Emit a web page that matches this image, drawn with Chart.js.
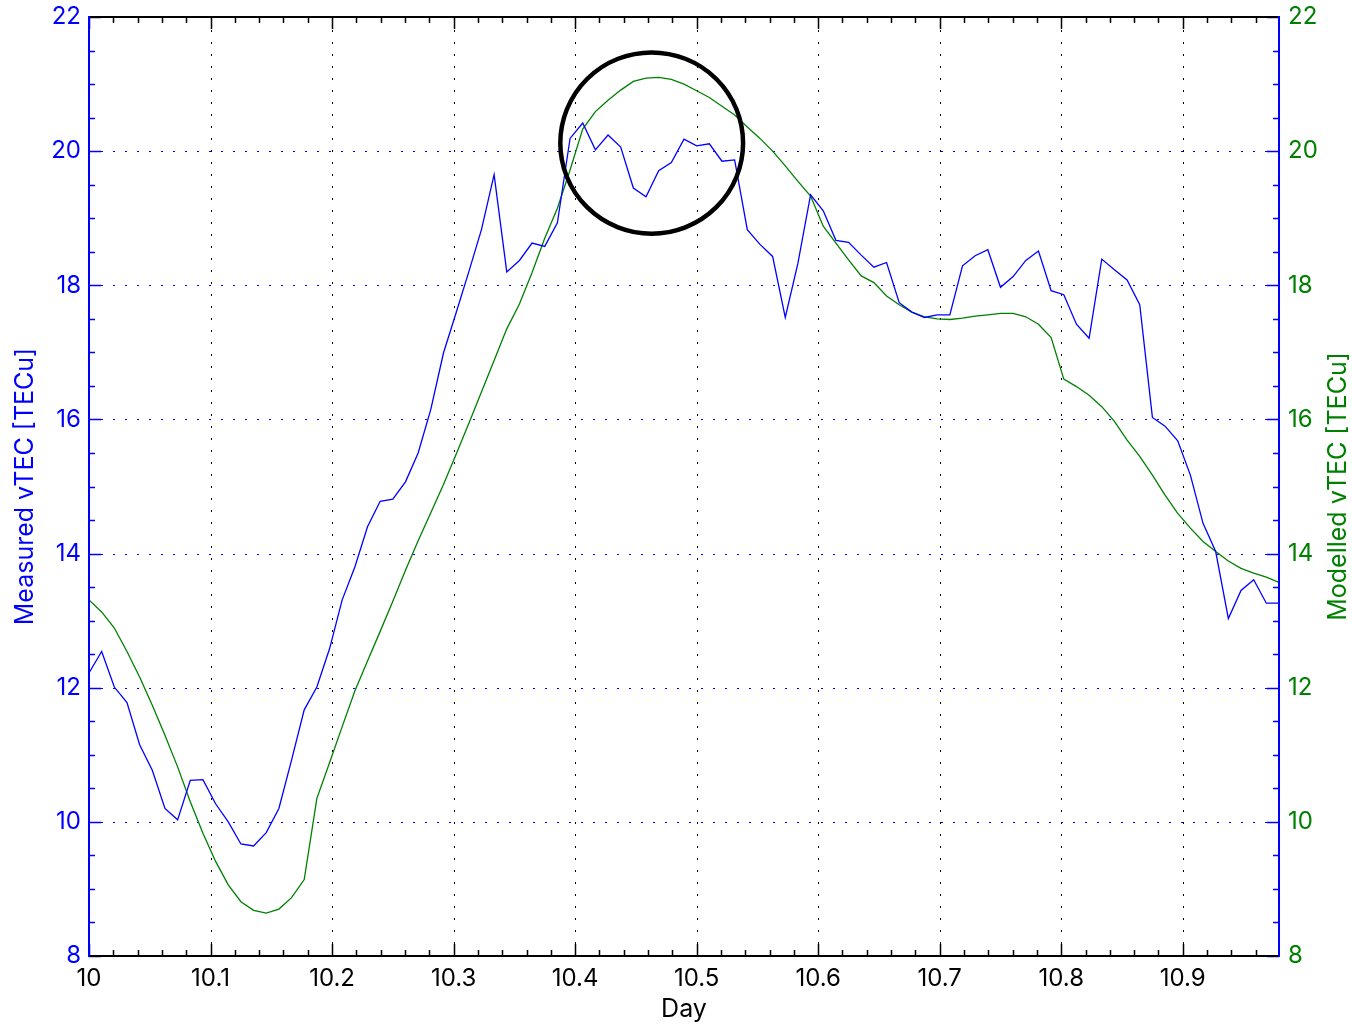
<!DOCTYPE html>
<html>
<head>
<meta charset="utf-8">
<script src="https://cdn.jsdelivr.net/npm/chart.js@4.4.0/dist/chart.umd.min.js"></script>
<style>
html,body{margin:0;padding:0;background:#fff;}
#wrap{width:1352px;height:1025px;}
</style>
</head>
<body>
<div id="wrap"><canvas id="c" width="1352" height="1025"></canvas></div>
<script>
// ---- data ----
const dayStart = 10;
const sampleMinutes = 15;

const measuredTEC = [
  12.22, 12.54, 12.01, 11.78, 11.15, 10.77, 10.20, 10.03, 10.62, 10.63,
  10.27, 10.00, 9.67, 9.64, 9.84, 10.20, 10.92, 11.67, 12.01, 12.58,
  13.31, 13.80, 14.40, 14.78, 14.81, 15.07, 15.50, 16.15, 16.99, 17.59,
  18.20, 18.83, 19.65, 18.20, 18.37, 18.63, 18.58, 18.93, 20.19, 20.42,
  20.02, 20.24, 20.06, 19.45, 19.32, 19.71, 19.83, 20.18, 20.08, 20.11,
  19.85, 19.87, 18.83, 18.61, 18.43, 17.52, 18.33, 19.35, 19.11, 18.67,
  18.64, 18.45, 18.27, 18.34, 17.74, 17.60, 17.52, 17.56, 17.56, 18.29,
  18.44, 18.53, 17.97, 18.13, 18.37, 18.51, 17.92, 17.86, 17.42, 17.21,
  18.39, 18.23, 18.08, 17.71, 16.03, 15.90, 15.68, 15.17, 14.45, 14.03,
  13.03, 13.45, 13.61, 13.26, 13.26
];

const modelledTEC = [
  13.31, 13.13, 12.89, 12.54, 12.16, 11.74, 11.29, 10.82, 10.30, 9.83,
  9.41, 9.06, 8.81, 8.68, 8.64, 8.70, 8.87, 9.14, 10.35, 10.88,
  11.42, 11.95, 12.40, 12.84, 13.29, 13.75, 14.19, 14.61, 15.03, 15.48,
  15.94, 16.41, 16.88, 17.35, 17.72, 18.19, 18.70, 19.15, 19.72, 20.33,
  20.59, 20.76, 20.91, 21.04, 21.09, 21.10, 21.07, 21.00, 20.90, 20.80,
  20.67, 20.54, 20.36, 20.19, 20.00, 19.78, 19.55, 19.33, 18.88, 18.63,
  18.38, 18.14, 18.04, 17.84, 17.71, 17.60, 17.53, 17.50, 17.49, 17.51,
  17.54, 17.56, 17.58, 17.58, 17.53, 17.42, 17.22, 16.60, 16.49, 16.36,
  16.19, 15.97, 15.69, 15.45, 15.17, 14.87, 14.60, 14.38, 14.18, 14.03,
  13.89, 13.78, 13.71, 13.65, 13.57
];

// sample times (15-minute cadence), in days
const days = measuredTEC.map((_, i) => dayStart + i * sampleMinutes / 1440);

const xTickValues = [10, 10.1, 10.2, 10.3, 10.4, 10.5, 10.6, 10.7, 10.8, 10.9];
const xTickLabels = ['10', '10.1', '10.2', '10.3', '10.4', '10.5', '10.6', '10.7', '10.8', '10.9'];
const yTickValues = [8, 10, 12, 14, 16, 18, 20, 22];
const yTickLabels = ['8', '10', '12', '14', '16', '18', '20', '22'];

const xTitle = 'Day';
const yLeftTitle = 'Measured vTEC [TECu]';
const yRightTitle = 'Modelled vTEC [TECu]';

// highlighted region (data units)
const highlightCenter = { day: 10.463, tec: 20.12 };
const highlightRadius = { day: 0.0752, tec: 1.352 };

// ---- style ----
const FONT = 'Inter, "Liberation Sans", Arial, sans-serif';
const BLUE = '#0000ff';
const GREEN = '#008000';

const framePlugin = {
  id: 'frame',
  beforeDatasetsDraw(chart) {
    const { ctx, chartArea: a, scales } = chart;
    const x = scales.x, y = scales.y;
    ctx.save();
    ctx.lineWidth = 1;
    ctx.setLineDash([2, 10]);
    ctx.strokeStyle = '#000';
    xTickValues.forEach(v => {
      if (v <= x.min + 1e-9 || v >= x.max - 1e-9) return;
      const px = Math.round(x.getPixelForValue(v)) + 0.5;
      ctx.beginPath(); ctx.moveTo(px, a.bottom); ctx.lineTo(px, a.top); ctx.stroke();
    });
    ctx.strokeStyle = BLUE;
    yTickValues.forEach(v => {
      if (v <= y.min + 1e-9 || v >= y.max - 1e-9) return;
      const py = Math.round(y.getPixelForValue(v)) + 0.5;
      ctx.beginPath(); ctx.moveTo(a.left, py); ctx.lineTo(a.right, py); ctx.stroke();
    });
    ctx.restore();
  },
  afterDatasetsDraw(chart) {
    const { ctx, chartArea: a, scales } = chart;
    const x = scales.x, y = scales.y;
    ctx.save();
    // highlight circle
    const cx = x.getPixelForValue(highlightCenter.day);
    const cy = y.getPixelForValue(highlightCenter.tec);
    const rx = Math.abs(x.getPixelForValue(highlightCenter.day + highlightRadius.day) - cx);
    const ry = Math.abs(y.getPixelForValue(highlightCenter.tec + highlightRadius.tec) - cy);
    ctx.lineWidth = 4.5;
    ctx.strokeStyle = '#000';
    ctx.beginPath(); ctx.ellipse(cx, cy, rx, ry, 0, 0, Math.PI * 2); ctx.stroke();

    // x ticks (inward, bottom and top)
    ctx.lineWidth = 1.5;
    ctx.strokeStyle = '#000';
    for (let k = 0; ; k++) {
      const v = dayStart + k * 0.02;
      if (v > x.max + 1e-9) break;
      const major = k % 5 === 0;
      const len = major ? 12 : 6;
      const px = Math.round(x.getPixelForValue(v)) + 0.5;
      ctx.beginPath();
      ctx.moveTo(px, a.bottom); ctx.lineTo(px, a.bottom - len);
      ctx.moveTo(px, a.top); ctx.lineTo(px, a.top + len);
      ctx.stroke();
    }
    // y ticks (inward, left and right)
    ctx.strokeStyle = BLUE;
    for (let k = 0; ; k++) {
      const v = y.min + k * 0.5;
      if (v > y.max + 1e-9) break;
      const major = k % 4 === 0;
      const len = major ? 12 : 6;
      const py = Math.round(y.getPixelForValue(v)) + 0.5;
      ctx.beginPath();
      ctx.moveTo(a.left, py); ctx.lineTo(a.left + len, py);
      ctx.moveTo(a.right, py); ctx.lineTo(a.right - len, py);
      ctx.stroke();
    }
    // frame
    ctx.lineWidth = 2;
    ctx.strokeStyle = '#000';
    ctx.beginPath(); ctx.moveTo(a.left, a.top); ctx.lineTo(a.right, a.top); ctx.stroke();
    ctx.beginPath(); ctx.moveTo(a.left, a.bottom); ctx.lineTo(a.right, a.bottom); ctx.stroke();
    ctx.strokeStyle = BLUE;
    ctx.beginPath(); ctx.moveTo(a.left, a.top - 1); ctx.lineTo(a.left, a.bottom + 1); ctx.stroke();
    ctx.beginPath(); ctx.moveTo(a.right, a.top - 1); ctx.lineTo(a.right, a.bottom + 1); ctx.stroke();
    ctx.restore();
  },
  afterDraw(chart) {
    const { ctx, chartArea: a } = chart;
    const midY = (a.top + a.bottom) / 2;
    ctx.save();
    ctx.font = '25px ' + FONT;
    ctx.textAlign = 'center';
    ctx.textBaseline = 'alphabetic';
    ctx.fillStyle = '#000';
    ctx.fillText(xTitle, (a.left + a.right) / 2, chart.height - 8);

    ctx.save();
    ctx.translate(33, midY);
    ctx.rotate(-Math.PI / 2);
    ctx.fillStyle = BLUE;
    ctx.fillText(yLeftTitle, 0, 0);
    ctx.restore();

    ctx.save();
    ctx.translate(chart.width - 6, midY);
    ctx.rotate(-Math.PI / 2);
    ctx.fillStyle = GREEN;
    ctx.fillText(yRightTitle, 0, 0);
    ctx.restore();
    ctx.restore();
  }
};

function fixY(width) {
  return s => { s.width = width; s.paddingTop = 0; s.paddingBottom = 0; };
}

const ctx = document.getElementById('c').getContext('2d');
new Chart(ctx, {
  type: 'line',
  data: {
    datasets: [
      {
        label: 'Measured vTEC',
        data: days.map((d, i) => ({ x: d, y: measuredTEC[i] })),
        borderColor: BLUE,
        borderWidth: 1.3,
        pointRadius: 0,
        tension: 0,
        xAxisID: 'x',
        yAxisID: 'y'
      },
      {
        label: 'Modelled vTEC',
        data: days.map((d, i) => ({ x: d, y: modelledTEC[i] })),
        borderColor: GREEN,
        borderWidth: 1.3,
        pointRadius: 0,
        tension: 0,
        xAxisID: 'x',
        yAxisID: 'y2'
      }
    ]
  },
  options: {
    responsive: false,
    animation: false,
    devicePixelRatio: 1,
    layout: { padding: { top: 17, left: 0, right: 0, bottom: 0 } },
    plugins: { legend: { display: false }, tooltip: { enabled: false } },
    scales: {
      x: {
        type: 'linear',
        position: 'bottom',
        min: dayStart,
        max: days[days.length - 1],
        afterBuildTicks: s => { s.ticks = xTickValues.map(v => ({ value: v })); },
        afterFit: s => { s.height = 69; s.paddingLeft = 0; s.paddingRight = 0; },
        grid: { display: false, drawTicks: false },
        border: { display: false },
        ticks: {
          color: '#000',
          font: { family: FONT, size: 24 },
          padding: 8,
          maxRotation: 0,
          autoSkip: false,
          callback: (v, i) => xTickLabels[i]
        }
      },
      y: {
        type: 'linear',
        position: 'left',
        min: 8,
        max: 22,
        afterBuildTicks: s => { s.ticks = yTickValues.map(v => ({ value: v })); },
        afterFit: fixY(89),
        grid: { display: false, drawTicks: false },
        border: { display: false },
        ticks: {
          color: BLUE,
          font: { family: FONT, size: 24 },
          padding: 8,
          autoSkip: false,
          callback: (v, i) => yTickLabels[i]
        }
      },
      y2: {
        type: 'linear',
        position: 'right',
        min: 8,
        max: 22,
        afterBuildTicks: s => { s.ticks = yTickValues.map(v => ({ value: v })); },
        afterFit: fixY(73),
        grid: { display: false, drawTicks: false },
        border: { display: false },
        ticks: {
          color: GREEN,
          font: { family: FONT, size: 24 },
          padding: 9,
          autoSkip: false,
          callback: (v, i) => yTickLabels[i]
        }
      }
    }
  },
  plugins: [framePlugin]
});
</script>
</body>
</html>
